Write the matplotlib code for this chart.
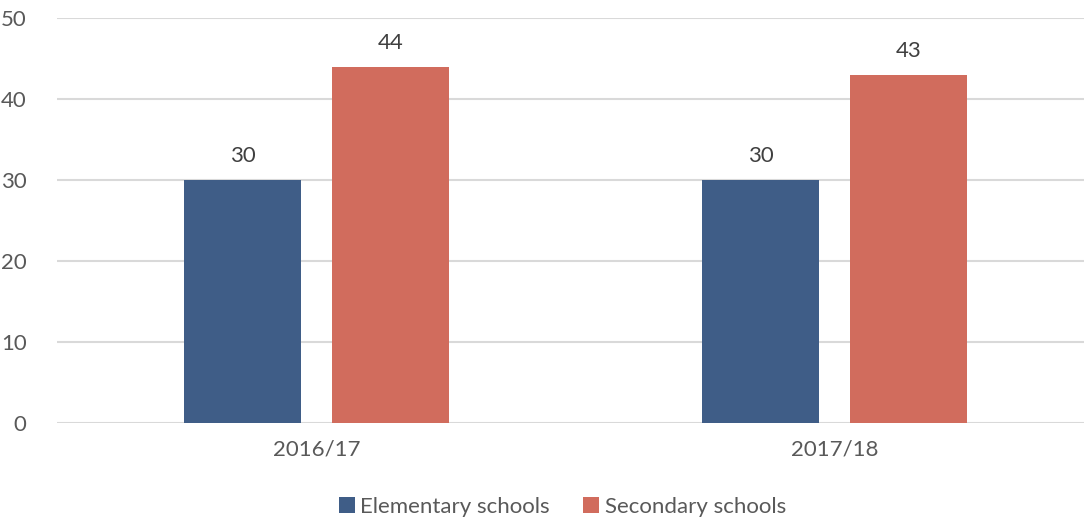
import numpy as np
import matplotlib.pyplot as plt

years = ['2016/17', '2017/18']
elementary = [30, 30]
secondary = [44, 43]

plt.rcParams['font.family'] = ['Lato', 'DejaVu Sans']

fig = plt.figure(figsize=(10.84, 5.21), dpi=100)
ax = fig.add_axes([0.0528, 0.188, 0.9566, 0.7775])

x = np.arange(len(years))
w = 0.2257
off = 0.1427
b1 = ax.bar(x - off, elementary, w, color='#3f5d87', label='Elementary schools', zorder=3)
b2 = ax.bar(x + off, secondary, w, color='#d16c5d', label='Secondary schools', zorder=3)

for bars in (b1, b2):
    for r in bars:
        ax.text(r.get_x() + r.get_width() / 2, r.get_height() + 1.7, f'{r.get_height():.0f}',
                ha='center', va='bottom', fontsize=16, color='#404040')

ax.set_xlim(-0.5, 1.5)
ax.set_ylim(0, 50)
ax.set_yticks(range(0, 51, 10))
ax.set_xticks(x)
ax.set_xticklabels(years)
ax.yaxis.grid(True, color='#d9d9d9', linewidth=1.5, zorder=0)
for s in ax.spines.values():
    s.set_visible(False)
ax.tick_params(length=0, labelsize=16, colors='#595959')
ax.tick_params(axis='y', pad=22)
ax.tick_params(axis='x', pad=12)

fig.legend(loc='lower center', bbox_to_anchor=(0.519, -0.03), ncol=2, frameon=False,
           fontsize=16, labelcolor='#595959', handlelength=0.7, handleheight=0.7,
           handletextpad=0.25, columnspacing=1.5)

fig.savefig('out.png', dpi=100)
